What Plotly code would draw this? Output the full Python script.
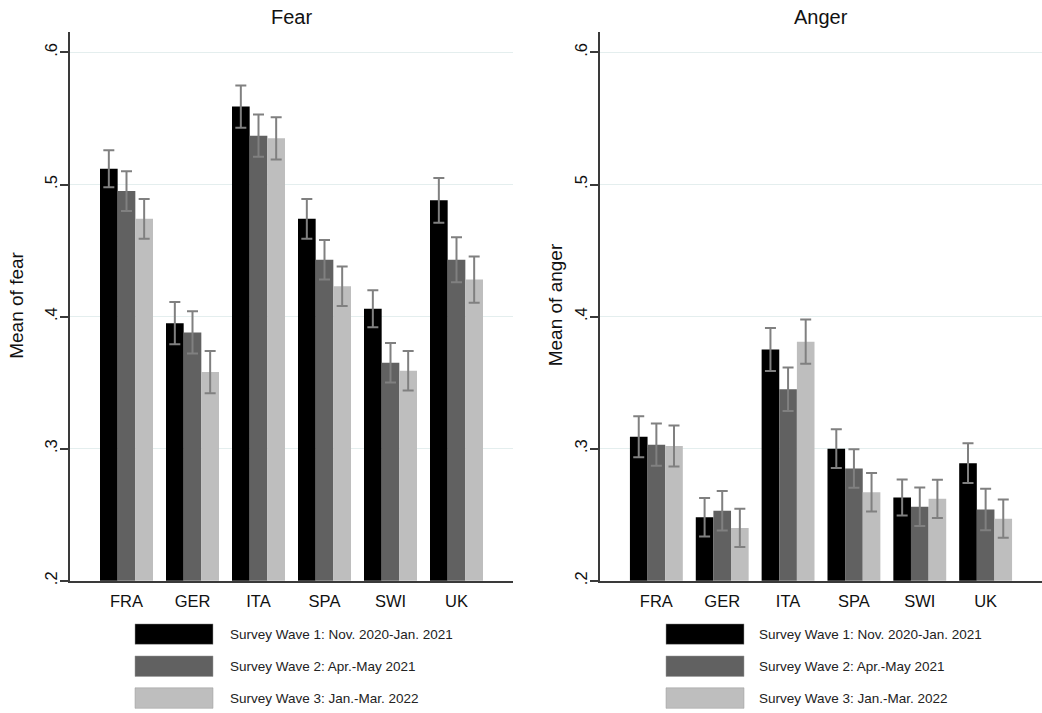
import plotly.graph_objects as go

countries = ["FRA", "GER", "ITA", "SPA", "SWI", "UK"]
waves = [
    "Survey Wave 1: Nov. 2020-Jan. 2021",
    "Survey Wave 2: Apr.-May 2021",
    "Survey Wave 3: Jan.-Mar. 2022",
]
colors = ["#000000", "#616161", "#bebebe"]

fear_w1 = [0.512, 0.395, 0.559, 0.474, 0.406, 0.488]
fear_w2 = [0.495, 0.388, 0.537, 0.443, 0.365, 0.443]
fear_w3 = [0.474, 0.358, 0.535, 0.423, 0.359, 0.428]
fear_ci_w1 = [0.014, 0.016, 0.016, 0.015, 0.014, 0.017]
fear_ci_w2 = [0.015, 0.016, 0.016, 0.015, 0.015, 0.017]
fear_ci_w3 = [0.015, 0.016, 0.016, 0.015, 0.015, 0.0175]

anger_w1 = [0.309, 0.248, 0.375, 0.300, 0.263, 0.289]
anger_w2 = [0.303, 0.253, 0.345, 0.285, 0.256, 0.254]
anger_w3 = [0.302, 0.240, 0.381, 0.267, 0.262, 0.247]
anger_ci_w1 = [0.0155, 0.0146, 0.0163, 0.0147, 0.0136, 0.015]
anger_ci_w2 = [0.016, 0.015, 0.0165, 0.0146, 0.0146, 0.0157]
anger_ci_w3 = [0.0155, 0.0145, 0.0168, 0.0146, 0.0145, 0.0145]

y_ticks = [0.2, 0.3, 0.4, 0.5, 0.6]
y_ticktext = [".2", ".3", ".4", ".5", ".6"]

W, H = 1042, 713
FONT = "Liberation Sans, Arial, sans-serif"

fig = go.Figure()

panels = [
    ("x", "y", [fear_w1, fear_w2, fear_w3], [fear_ci_w1, fear_ci_w2, fear_ci_w3]),
    ("x2", "y2", [anger_w1, anger_w2, anger_w3], [anger_ci_w1, anger_ci_w2, anger_ci_w3]),
]
for xa, ya, series, cis in panels:
    for name, vals, ci, col in zip(waves, series, cis, colors):
        fig.add_trace(go.Bar(
            x=countries, y=vals, name=name, xaxis=xa, yaxis=ya,
            marker=dict(color=col, line=dict(width=0)),
            error_y=dict(type="data", array=ci, visible=True,
                         color="#808080", thickness=2, width=5.5),
            showlegend=False,
        ))

xdom1 = [70 / W, 513 / W]
xdom2 = [600 / W, 1.0]
ydom = [(H - 584) / H, (H - 32) / H]
yrange = [0.2, 0.6156]
xrange = [-0.856, 5.856]

common_x = dict(type="category", range=xrange, showline=True, linecolor="#3a3a3a",
                linewidth=2, ticks="", showgrid=False,
                tickfont=dict(family=FONT, size=16.5, color="#111"), ticklabelstandoff=4)
common_y = dict(range=yrange, tickvals=y_ticks, ticktext=y_ticktext, tickangle=-90,
                showline=True, linecolor="#3a3a3a", linewidth=2, ticks="outside",
                ticklen=8, tickwidth=1.5, tickcolor="#3a3a3a", showgrid=True,
                gridcolor="#e4eeee", gridwidth=1, zeroline=False,
                tickfont=dict(family=FONT, size=16.5, color="#111"), ticklabelstandoff=-4)

fig.update_layout(
    width=W, height=H,
    margin=dict(l=0, r=0, t=0, b=0),
    paper_bgcolor="white", plot_bgcolor="white",
    barmode="group", bargap=0.197, bargroupgap=0,
    font=dict(family=FONT, color="#111"),
    xaxis=dict(domain=xdom1, anchor="y", **common_x),
    yaxis=dict(domain=ydom, anchor="x", **common_y),
    xaxis2=dict(domain=xdom2, anchor="y2", **common_x),
    yaxis2=dict(domain=ydom, anchor="x2", **common_y),
)

annotations = [
    dict(text="Fear", x=(xdom1[0] + xdom1[1]) / 2, y=1 - 17 / H, xref="paper", yref="paper",
         showarrow=False, font=dict(size=20, family=FONT, color="#111"),
         xanchor="center", yanchor="middle"),
    dict(text="Anger", x=(xdom2[0] + xdom2[1]) / 2, y=1 - 17 / H, xref="paper", yref="paper",
         showarrow=False, font=dict(size=20, family=FONT, color="#111"),
         xanchor="center", yanchor="middle"),
    dict(text="Mean of fear", x=16.5 / W, y=1 - 307 / H, xref="paper", yref="paper",
         showarrow=False, textangle=-90, font=dict(size=19, family=FONT, color="#111"),
         xanchor="center", yanchor="middle"),
    dict(text="Mean of anger", x=555 / W, y=1 - 307 / H, xref="paper", yref="paper",
         showarrow=False, textangle=-90, font=dict(size=19, family=FONT, color="#111"),
         xanchor="center", yanchor="middle"),
]

shapes = []
row_y = [637.7, 670.0, 702.0]
for sw_x0, txt_x in [(135, 228), (666, 757)]:
    for i, (name, col) in enumerate(zip(waves, colors)):
        cy = row_y[i]
        shapes.append(dict(type="rect", xref="paper", yref="paper",
                           x0=sw_x0 / W, x1=(sw_x0 + 78) / W,
                           y0=1 - (cy + 10.3) / H, y1=1 - (cy - 10.3) / H,
                           fillcolor=col, line=dict(color="#9a9a9a", width=0.5)))
        annotations.append(dict(text=name, x=txt_x / W, y=1 - cy / H, xref="paper", yref="paper",
                                showarrow=False, xanchor="left", yanchor="middle",
                                font=dict(size=13.5, family=FONT, color="#222")))

fig.update_layout(annotations=annotations, shapes=shapes)

fig.write_html("out.html")
